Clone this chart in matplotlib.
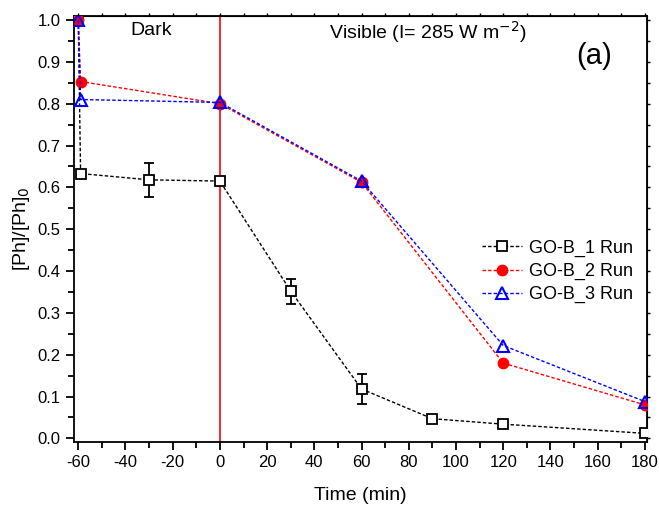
import matplotlib
matplotlib.use("Agg")
import matplotlib.pyplot as plt
from matplotlib.ticker import MultipleLocator

plt.rcParams['font.family'] = ['Liberation Sans', 'DejaVu Sans']
plt.rcParams['axes.unicode_minus'] = False

# data
t1 = [-60, -59, -30, 0, 30, 60, 90, 120, 180]
run1 = [1.0, 0.633, 0.618, 0.615, 0.352, 0.118, 0.047, 0.034, 0.012]
err1 = [0, 0, 0.04, 0, 0.03, 0.035, 0.006, 0.006, 0]

t23 = [-60, -59, 0, 60, 120, 180]
run2 = [1.0, 0.853, 0.800, 0.612, 0.180, 0.080]
run3 = [1.0, 0.810, 0.803, 0.615, 0.222, 0.088]

labels = ['GO-B_1 Run', 'GO-B_2 Run', 'GO-B_3 Run']

fig = plt.figure(figsize=(6.59, 5.05), dpi=100)
ax = fig.add_axes([0.1123, 0.1253, 0.8695, 0.8436])

ax.axvline(0, color='red', linewidth=1.2, zorder=1)

dash = (0, (2.5, 1.5))
c1 = ax.errorbar(t1, run1, yerr=err1, color='black', linestyle=dash, linewidth=1,
                 marker='s', markersize=7, markerfacecolor='white', markeredgecolor='black',
                 markeredgewidth=1.3, capsize=3.5, elinewidth=1.3, capthick=1.3,
                 zorder=3)
l2, = ax.plot(t23, run2, color='red', linestyle=dash, linewidth=1,
              marker='o', markersize=7.5, markerfacecolor='red', markeredgecolor='red',
              zorder=4)
l3, = ax.plot(t23, run3, color='blue', linestyle=dash, linewidth=1,
              marker='^', markersize=8, markerfacecolor='none', markeredgecolor='blue',
              markeredgewidth=1.5, zorder=5)

ax.set_xlim(-61.8, 180.9)
ax.set_ylim(-0.008, 1.0103)
ax.xaxis.set_major_locator(MultipleLocator(20))
ax.xaxis.set_minor_locator(MultipleLocator(10))
ax.yaxis.set_major_locator(MultipleLocator(0.1))
ax.yaxis.set_minor_locator(MultipleLocator(0.05))
ax.yaxis.set_major_formatter(plt.FormatStrFormatter('%.1f'))

ax.tick_params(axis='both', which='both', direction='out', labelsize=12, width=1.3)
ax.tick_params(which='major', length=6)
ax.tick_params(which='minor', length=4)
for s in ax.spines.values():
    s.set_linewidth(1.3)

# small ticks on top and right
axt = ax.secondary_xaxis('top')
axt.xaxis.set_major_locator(MultipleLocator(20))
axt.xaxis.set_minor_locator(MultipleLocator(10))
axt.tick_params(which='both', direction='out', labeltop=False, width=1, length=2.5)
axr = ax.secondary_yaxis('right')
axr.yaxis.set_major_locator(MultipleLocator(0.1))
axr.yaxis.set_minor_locator(MultipleLocator(0.05))
axr.tick_params(which='both', direction='out', labelright=False, width=1, length=2.5)

ax.set_xlabel('Time (min)', fontsize=14, labelpad=12)
ax.set_ylabel('[Ph]/[Ph]$_0$', fontsize=14, labelpad=4)

ax.text(-29, 0.976, 'Dark', fontsize=14, ha='center', va='center')
ax.text(88, 0.971, 'Visible (I= 285 W m$^{-2}$)', fontsize=14, ha='center', va='center')
ax.text(158.5, 0.915, '(a)', fontsize=21, ha='center', va='center')

ax.legend(handles=[c1[0], l2, l3], labels=labels, loc='upper left',
          bbox_to_anchor=(0.712, 0.474), frameon=False, fontsize=13,
          handlelength=2.2, handletextpad=0.4, labelspacing=0.33,
          borderpad=0, borderaxespad=0)

fig.savefig('out.png', dpi=100)
